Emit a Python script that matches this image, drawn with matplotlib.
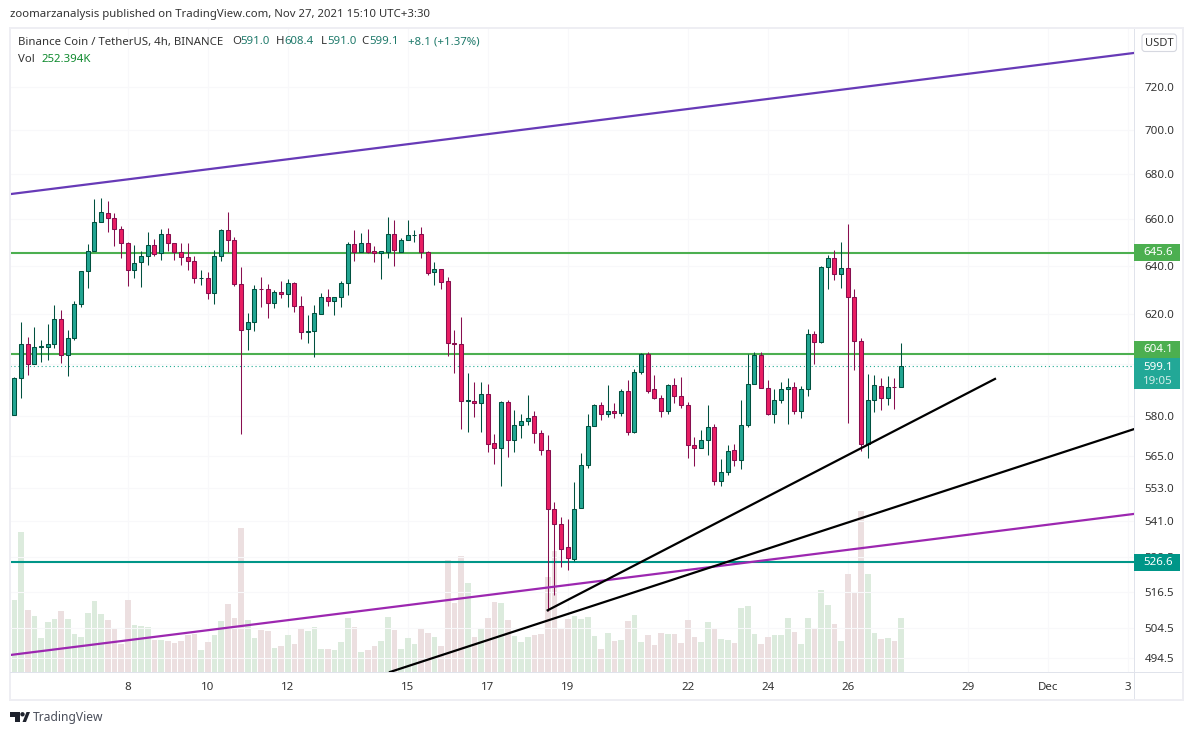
import matplotlib
matplotlib.use("Agg")
import numpy as np
import matplotlib.pyplot as plt
from matplotlib.patches import Rectangle, Polygon, Circle, FancyBboxPatch
from matplotlib.transforms import IdentityTransform

# -------------------------------
# Data (BNB/USDT 4h)
# -------------------------------
opens = [
    580.1, 594.7, 608.2, 600.2, 607.0, 606.9, 608.2, 617.9, 603.8, 610.6,
    624.4, 637.8, 646.2, 658.7, 662.6, 660.4, 655.6, 649.6, 638.2, 641.5,
    644.1, 648.8, 645.4, 653.5, 649.6, 645.8, 643.7, 642.0, 634.8, 634.8,
    628.6, 644.1, 655.2, 650.9, 632.3, 614.2, 616.7, 630.3, 630.2, 624.8,
    629.0, 628.2, 632.7, 623.2, 613.0, 613.4, 620.0, 626.9, 625.5, 626.9,
    632.7, 649.2, 646.1, 649.6, 646.2, 645.4, 646.1, 653.5, 646.1, 650.9,
    653.2, 653.5, 645.8, 637.3, 638.6, 633.9, 608.6, 608.2, 585.8, 585.8,
    585.0, 588.5, 569.8, 567.9, 585.4, 570.9, 576.6, 577.8, 579.7, 573.6,
    567.2, 545.3, 540.0, 531.9, 527.7, 545.7, 561.6, 576.2, 584.2, 580.8,
    581.9, 581.2, 589.6, 573.9, 597.1, 604.2, 590.1, 586.9, 581.9, 592.0,
    587.7, 583.9, 569.0, 567.9, 570.9, 575.8, 555.7, 559.0, 567.2, 563.4,
    576.6, 592.4, 603.8, 590.8, 580.8, 586.2, 590.1, 591.2, 581.9, 590.1,
    612.2, 609.0, 639.4, 643.3, 636.5, 639.0, 626.9, 609.4, 569.4, 586.2,
    591.6, 586.9, 591.2, 591.0,
]
highs = [
    594.8, 616.7, 610.7, 614.8, 609.5, 615.9, 624.0, 621.6, 613.8, 625.3,
    637.8, 649.2, 668.8, 669.1, 668.0, 662.7, 656.9, 650.0, 648.8, 646.2,
    654.7, 651.3, 655.6, 656.4, 649.6, 649.6, 649.6, 644.1, 638.2, 637.3,
    646.6, 655.6, 663.0, 652.2, 639.8, 620.4, 631.9, 635.2, 632.3, 629.8,
    633.9, 634.4, 633.5, 627.7, 619.6, 624.0, 628.6, 630.2, 627.3, 633.9,
    650.0, 655.2, 653.9, 655.6, 648.4, 646.2, 660.8, 659.5, 651.8, 659.5,
    655.2, 656.5, 646.2, 641.5, 638.6, 635.2, 613.8, 618.7, 596.7, 592.8,
    592.8, 592.4, 573.2, 585.8, 586.2, 582.3, 580.8, 588.1, 581.6, 574.7,
    572.8, 548.1, 542.5, 541.8, 555.1, 566.1, 580.8, 584.6, 585.4, 592.0,
    585.0, 590.4, 593.6, 597.9, 604.6, 605.0, 595.9, 588.1, 592.4, 594.4,
    595.1, 585.4, 572.1, 574.7, 584.2, 577.0, 563.8, 569.0, 569.4, 586.2,
    604.2, 605.0, 605.0, 593.6, 590.1, 592.8, 594.4, 592.8, 591.6, 614.2,
    613.4, 640.2, 644.6, 646.6, 650.0, 657.8, 630.6, 610.6, 596.3, 595.9,
    594.7, 595.5, 594.7, 608.4,
]
lows = [
    580.1, 586.8, 595.6, 600.2, 600.8, 601.7, 606.5, 600.5, 595.4, 609.7,
    623.1, 630.9, 646.2, 658.7, 654.6, 648.6, 643.5, 631.8, 635.1, 631.3,
    640.5, 644.4, 642.7, 646.4, 642.7, 640.5, 638.4, 633.0, 632.2, 626.4,
    624.3, 642.3, 645.8, 631.8, 573.1, 605.7, 613.3, 623.1, 618.6, 622.7,
    626.8, 623.1, 621.0, 609.9, 608.5, 602.8, 620.0, 623.4, 619.8, 623.1,
    628.0, 642.3, 646.1, 645.7, 641.8, 634.7, 643.5, 640.1, 646.1, 650.9,
    650.3, 643.5, 636.4, 632.2, 630.5, 603.3, 596.6, 575.0, 573.8, 579.5,
    573.8, 566.3, 561.8, 553.8, 564.4, 566.3, 571.5, 576.5, 569.6, 565.2,
    510.1, 515.6, 525.2, 524.1, 527.0, 545.7, 560.3, 576.2, 578.4, 579.5,
    579.2, 579.9, 572.7, 573.4, 596.3, 588.9, 586.5, 579.5, 580.7, 584.9,
    583.0, 564.1, 561.1, 567.9, 565.2, 554.3, 553.8, 557.9, 561.1, 560.0,
    575.8, 592.4, 590.8, 580.1, 577.3, 584.9, 576.9, 580.7, 579.3, 587.6,
    600.1, 608.5, 630.2, 634.3, 630.9, 577.4, 597.7, 566.8, 564.2, 581.4,
    582.2, 584.1, 582.6, 591.0,
]
closes = [
    594.4, 608.2, 600.2, 607.0, 607.2, 608.2, 617.9, 603.8, 610.6, 624.4,
    637.8, 646.2, 658.7, 663.0, 660.4, 655.6, 649.6, 638.2, 641.1, 644.1,
    648.8, 644.9, 653.5, 649.6, 645.8, 643.7, 642.0, 634.8, 634.9, 628.6,
    644.1, 655.2, 650.9, 632.3, 613.8, 616.7, 630.6, 630.2, 624.8, 629.0,
    628.2, 632.7, 623.2, 613.0, 613.1, 620.4, 626.9, 625.5, 626.9, 632.7,
    649.2, 646.1, 649.6, 646.1, 645.4, 646.2, 653.5, 646.7, 650.9, 653.0,
    653.3, 645.8, 636.9, 638.6, 633.5, 608.6, 608.2, 585.8, 585.9, 585.0,
    588.5, 569.4, 567.9, 585.4, 570.9, 576.6, 577.8, 579.3, 573.6, 567.2,
    545.3, 540.0, 531.4, 528.0, 545.3, 561.6, 576.2, 584.2, 580.8, 581.9,
    581.0, 589.6, 573.8, 597.1, 604.2, 589.6, 586.9, 581.9, 592.0, 587.7,
    583.9, 569.0, 567.9, 570.9, 575.8, 555.7, 559.0, 566.8, 563.4, 576.6,
    592.4, 603.8, 590.8, 580.8, 586.2, 590.1, 591.2, 581.9, 590.1, 612.2,
    609.0, 639.4, 643.3, 636.5, 639.0, 626.9, 609.4, 569.4, 586.2, 592.0,
    586.9, 591.2, 591.1, 599.1,
]
# volume in thousands
volumes = [
    336, 652, 290, 262, 160, 234, 248, 285, 248, 178,
    164, 276, 332, 271, 243, 206, 132, 336, 220, 215,
    211, 150, 150, 146, 136, 146, 174, 178, 104, 141,
    174, 239, 318, 253, 667, 243, 160, 197, 192, 113,
    122, 174, 132, 206, 192, 211, 109, 109, 104, 141,
    253, 211, 95, 104, 122, 146, 257, 197, 109, 160,
    132, 202, 183, 164, 122, 518, 322, 541, 415, 164,
    206, 253, 327, 322, 243, 169, 141, 164, 174, 178,
    443, 564, 206, 248, 262, 248, 257, 169, 109, 183,
    146, 150, 239, 267, 141, 174, 127, 183, 178, 178,
    136, 243, 164, 141, 234, 206, 155, 150, 136, 299,
    308, 178, 132, 164, 174, 174, 253, 188, 132, 253,
    202, 383, 313, 225, 146, 453, 369, 750, 457, 183,
    155, 160, 146, 252.394,
]

# horizontal levels and drawn trend lines (bar index, price)
level_green = [645.6, 604.1]
level_teal = 526.6
last_price = 599.1
wedge_top = ([-0.65, 167.95], [671.0, 736.3])
wedge_bottom = ([-0.65, 167.95], [495.5, 543.7])
trend_a = ([80.0, 147.1], [510.3, 594.2])
trend_b = ([56.35, 167.95], [490.0, 574.9])

# axis labels (the 600.0 label is hidden behind the price tags)
price_ticks = [720, 700, 680, 660, 640, 620, 600, 580, 565, 553, 541, 528.5, 516.5, 504.5, 494.5]
date_pos = [17, 29, 41, 59, 71, 83, 101, 113, 125, 143, 155, 167]
date_labels = ["8", "10", "12", "15", "17", "19", "22", "24", "26", "29", "Dec", "3"]

# colors
up_fill, up_edge = "#22a592", "#00513f"
down_fill, down_edge = "#e91e63", "#880e4f"
vol_up, vol_down = "#dcebdd", "#ecdfe0"
border = "#eeeef3"
grid_col = "#f8f8fa"
text_col = "#333333"

W, H = 1194, 735
plt.rcParams["font.family"] = ["Noto Sans", "DejaVu Sans"]
fig = plt.figure(figsize=(W / 100, H / 100), dpi=100, facecolor="white")


def box(x0, y0, x1, y1):
    # pixel box (top-left origin) to figure fractions
    return [x0 / W, 1 - y1 / H, (x1 - x0) / W, (y1 - y0) / H]


# volume sits in its own axes behind the prices
ax_vol = fig.add_axes(box(10, 29, 1134, 672))
ax = fig.add_axes(box(10, 29, 1134, 672), sharex=ax_vol)
ax.patch.set_visible(False)

x = np.arange(len(closes))
o = np.array(opens)
c = np.array(closes)
rising = c >= o

ax_vol.bar(x, volumes, width=0.85, color=[vol_up if r else vol_down for r in rising])
ax_vol.set_ylim(0, 643 * 4.645)
ax_vol.set_yticks([])
ax_vol.set_xlim(-0.65, 167.95)
ax_vol.set_xticks(date_pos)
ax_vol.grid(axis="x", color=grid_col, lw=0.8)
ax_vol.set_axisbelow(True)
ax_vol.tick_params(axis="x", length=0, labelbottom=False)
for s in ax_vol.spines.values():
    s.set_visible(False)

ax.set_yscale("log")
ax.set_ylim(490.0, 748.0)
ax.set_yticks(price_ticks)
ax.set_yticklabels(["" if p == 600 else f"{p:.1f}" for p in price_ticks])
ax.minorticks_off()
ax.grid(axis="y", color=grid_col, lw=0.8)
ax.yaxis.tick_right()
ax.tick_params(axis="y", length=0, pad=7.5, labelsize=8.3, labelcolor=text_col)
ax.tick_params(axis="x", length=0, pad=7, labelsize=8.3, labelcolor=text_col)
ax.set_xticks(date_pos)
ax.set_xticklabels(date_labels)

# levels and trend lines
for lvl in level_green:
    ax.axhline(lvl, color="#4caf50", lw=1.5, zorder=2)
ax.axhline(level_teal, color="#009688", lw=1.5, zorder=2)
ax.axhline(last_price, color="#22ab94", lw=0.8, ls=(0, (1, 2.5)), zorder=2)

# candles
ax.vlines(x[rising], np.array(lows)[rising], np.array(highs)[rising], color=up_edge, lw=0.75, zorder=3)
ax.vlines(x[~rising], np.array(lows)[~rising], np.array(highs)[~rising], color=down_edge, lw=0.75, zorder=3)
ax.bar(x[rising], np.abs(c - o)[rising], bottom=np.minimum(o, c)[rising], width=0.6,
       color=up_fill, edgecolor=up_edge, lw=0.75, zorder=4)
ax.bar(x[~rising], np.abs(c - o)[~rising], bottom=np.minimum(o, c)[~rising], width=0.6,
       color=down_fill, edgecolor=down_edge, lw=0.75, zorder=4)

ax.plot(*wedge_top, color="#673ab7", lw=1.6, zorder=5)
ax.plot(*wedge_bottom, color="#9c27b0", lw=1.6, zorder=5)
ax.plot(*trend_a, color="black", lw=1.6, zorder=5)
ax.plot(*trend_b, color="black", lw=1.6, zorder=5)

for s in ax.spines.values():
    s.set_visible(False)

fig.canvas.draw()


def add_rect(x0, y0, x1, y1, color, **kw):
    fig.add_artist(Rectangle((x0 / W, 1 - y1 / H), (x1 - x0) / W, (y1 - y0) / H,
                             transform=fig.transFigure, facecolor=color, edgecolor="none", **kw))


def price_y(p):
    # price to pixel row, measured from the top
    return H - ax.transData.transform((0, p))[1]


def price_tag(row, label, color):
    add_rect(1134, row - 8.5, 1180, row + 8.5, color, zorder=6)
    fig.text(1158 / W, 1 - row / H, label, color="white", ha="center", va="center", fontsize=8.3, zorder=7)


# outer frame of the chart
add_rect(9, 27, 1184, 29, border)
add_rect(9, 699, 1184, 701, border)
add_rect(9, 27, 11, 701, border)
add_rect(1182, 27, 1184, 701, border)
add_rect(1133.5, 29, 1134.5, 699, "#e0e3eb")
add_rect(10, 671.5, 1182, 672.5, "#e0e3eb")

# price scale tags, the 604.1 one is pushed up by the last price tag
price_tag(price_y(level_green[0]), f"{level_green[0]:.1f}", "#4caf50")
price_tag(349.5, f"{level_green[1]:.1f}", "#4caf50")
price_tag(price_y(level_teal), f"{level_teal:.1f}", "#009688")
add_rect(1134, 358, 1180, 389, "#22a897", zorder=6)
fig.text(1158 / W, 1 - 367 / H, f"{last_price:.1f}", color="white", ha="center", va="center",
         fontsize=8.3, zorder=7)
fig.text(1158 / W, 1 - 381 / H, "19:05", color="#d3eeea", ha="center", va="center",
         fontsize=8.3, zorder=7)

# currency button
fig.add_artist(FancyBboxPatch((1142, H - 51.5), 34.5, 17.5, boxstyle="round,pad=0,rounding_size=3",
                              transform=IdentityTransform(), facecolor="white", edgecolor="#d6d8e0", lw=0.8))
fig.text(1159 / W, 1 - 43 / H, "USDT", color=text_col, ha="center", va="center", fontsize=8.0)

# header text
fig.text(10 / W, 1 - 14.5 / H, "zoomarzanalysis published on TradingView.com, Nov 27, 2021 15:10 UTC+3:30",
         color=text_col, va="center", fontsize=8.2)
fig.text(18 / W, 1 - 42 / H, "Binance Coin / TetherUS, 4h, BINANCE", color=text_col, va="center", fontsize=8.2)
val_col = "#1f7a6b"
for xp, letter, val in [(232, "O", "591.0"), (276, "H", "608.4"), (321, "L", "591.0"), (361, "C", "599.1")]:
    fig.text(xp / W, 1 - 42 / H, letter, color=text_col, va="center", fontsize=8.2)
    fig.text((xp + (6 if letter == "L" else 8.5)) / W, 1 - 42 / H, val, color=val_col, va="center", fontsize=8.2)
fig.text(408 / W, 1 - 42 / H, "+8.1 (+1.37%)", color=val_col, va="center", fontsize=8.2)
fig.text(18 / W, 1 - 59 / H, "Vol", color=text_col, va="center", fontsize=8.2)
fig.text(42 / W, 1 - 59 / H, "252.394K", color="#0f8a2e", va="center", fontsize=8.2)

# TradingView mark at the bottom left
logo = "#1e222d"
for pts in [
    [(10, 712), (20, 712), (20, 722), (15, 722), (15, 717), (10, 717)],
    [(22.5, 722), (26.5, 712), (30, 712), (26, 722)],
]:
    fig.add_artist(Polygon([(px / W, 1 - py / H) for px, py in pts], closed=True,
                           transform=fig.transFigure, facecolor=logo, edgecolor="none"))
fig.add_artist(Circle((22.5, H - 714.3), 2.2, transform=IdentityTransform(), facecolor=logo, edgecolor="none"))
fig.text(33 / W, 1 - 717 / H, "TradingView", color="#4a4e5a", va="center", fontsize=8.7)

fig.savefig("out.png", dpi=100)
